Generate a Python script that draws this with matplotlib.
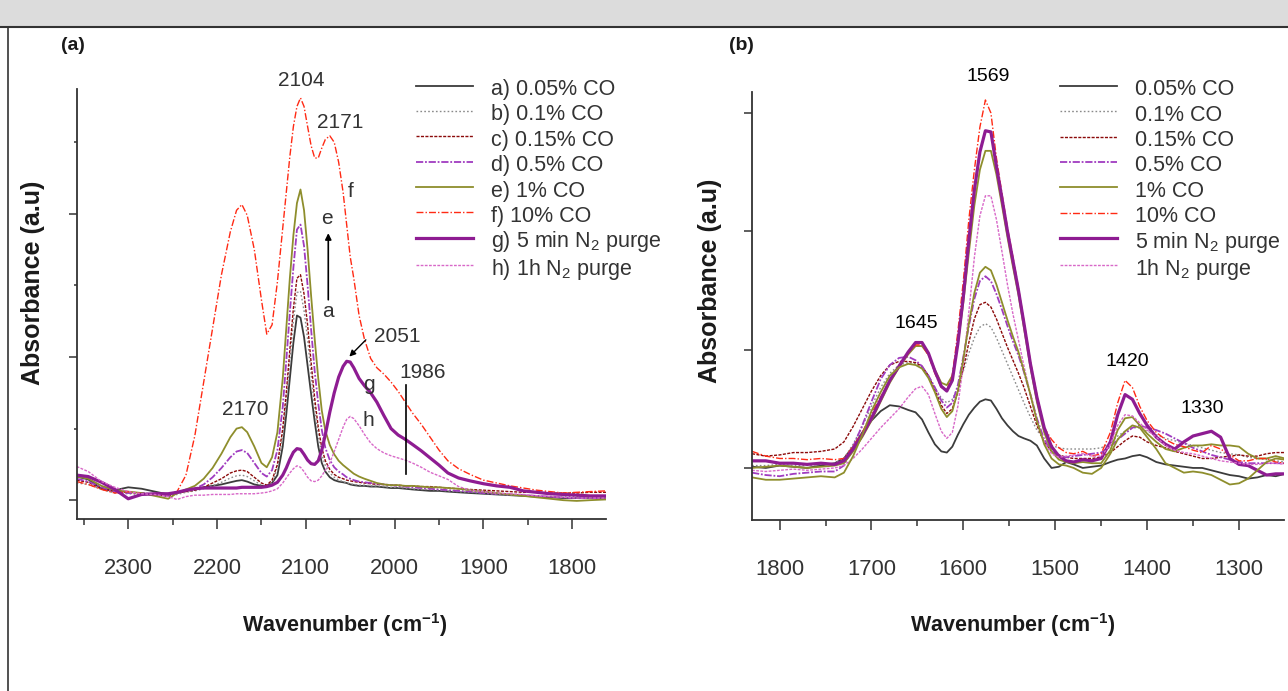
import matplotlib
matplotlib.use("Agg")
import matplotlib.pyplot as plt
from matplotlib.lines import Line2D
from matplotlib.patches import Rectangle

plt.rcParams['font.family'] = ['Liberation Sans', 'DejaVu Sans']
plt.rcParams['mathtext.fontset'] = 'custom'
plt.rcParams['mathtext.rm'] = 'Liberation Sans'
plt.rcParams['mathtext.it'] = 'Liberation Sans:italic'
plt.rcParams['mathtext.bf'] = 'Liberation Sans:bold'

# ---------------- Panel (a) data ----------------
wn_a = [2358, 2345, 2330, 2315, 2300, 2285, 2270, 2255, 2245, 2235, 2225, 2215, 2205, 2195,
        2185, 2178, 2172, 2166, 2158, 2150, 2144, 2138, 2132, 2126, 2122, 2118, 2114, 2110,
        2106, 2102, 2098, 2094, 2090, 2086, 2082, 2078, 2073, 2068, 2063, 2058, 2054, 2050,
        2046, 2040, 2034, 2027, 2020, 2012, 2004, 1996, 1988, 1980, 1970, 1960, 1950, 1940,
        1928, 1915, 1900, 1885, 1870, 1855, 1840, 1825, 1810, 1795, 1780, 1762]

a_005 = [0.033, 0.029, 0.016, 0.014, 0.018, 0.016, 0.012, 0.008, 0.010, 0.014, 0.016, 0.018, 0.020, 0.022,
         0.025, 0.027, 0.028, 0.026, 0.022, 0.020, 0.020, 0.024, 0.035, 0.075, 0.120, 0.170, 0.220, 0.258,
         0.255, 0.228, 0.188, 0.148, 0.110, 0.075, 0.052, 0.040, 0.032, 0.028, 0.026, 0.025, 0.024, 0.022,
         0.021, 0.020, 0.020, 0.019, 0.019, 0.018, 0.017, 0.017, 0.016, 0.015, 0.014, 0.013, 0.013, 0.012,
         0.011, 0.010, 0.009, 0.008, 0.007, 0.006, 0.005, 0.004, 0.003, 0.003, 0.003, 0.003]
a_01 = [0.024, 0.022, 0.015, 0.010, 0.009, 0.008, 0.007, 0.005, 0.008, 0.011, 0.013, 0.016, 0.020, 0.025,
        0.031, 0.034, 0.035, 0.033, 0.027, 0.021, 0.019, 0.024, 0.045, 0.090, 0.140, 0.195, 0.250, 0.290,
        0.292, 0.265, 0.225, 0.175, 0.128, 0.090, 0.064, 0.048, 0.038, 0.032, 0.028, 0.026, 0.024, 0.023,
        0.022, 0.021, 0.021, 0.020, 0.020, 0.019, 0.018, 0.018, 0.017, 0.016, 0.015, 0.015, 0.014, 0.013,
        0.012, 0.011, 0.010, 0.008, 0.007, 0.006, 0.005, 0.005, 0.005, 0.005, 0.005, 0.005]
a_015 = [0.028, 0.025, 0.016, 0.012, 0.011, 0.010, 0.008, 0.006, 0.010, 0.012, 0.014, 0.018, 0.024, 0.030,
         0.038, 0.041, 0.042, 0.040, 0.032, 0.024, 0.021, 0.028, 0.050, 0.100, 0.150, 0.210, 0.268, 0.310,
         0.315, 0.288, 0.245, 0.192, 0.142, 0.102, 0.073, 0.055, 0.043, 0.036, 0.032, 0.030, 0.028, 0.027,
         0.026, 0.025, 0.024, 0.023, 0.022, 0.022, 0.021, 0.021, 0.020, 0.020, 0.019, 0.019, 0.018, 0.017,
         0.016, 0.015, 0.014, 0.013, 0.012, 0.011, 0.011, 0.010, 0.010, 0.010, 0.011, 0.011]
a_05 = [0.030, 0.026, 0.018, 0.012, 0.010, 0.010, 0.008, 0.006, 0.010, 0.013, 0.016, 0.022, 0.032, 0.045,
        0.060, 0.068, 0.070, 0.066, 0.052, 0.038, 0.033, 0.042, 0.070, 0.130, 0.195, 0.262, 0.325, 0.378,
        0.385, 0.355, 0.300, 0.238, 0.180, 0.135, 0.098, 0.073, 0.056, 0.046, 0.040, 0.036, 0.032, 0.030,
        0.028, 0.026, 0.025, 0.024, 0.023, 0.022, 0.021, 0.020, 0.019, 0.018, 0.017, 0.016, 0.015, 0.014,
        0.013, 0.012, 0.010, 0.009, 0.008, 0.007, 0.006, 0.005, 0.004, 0.003, 0.003, 0.003]
a_1 = [0.033, 0.030, 0.020, 0.014, 0.012, 0.010, 0.006, 0.002, 0.010, 0.015, 0.020, 0.030, 0.045, 0.065,
       0.088, 0.100, 0.102, 0.095, 0.075, 0.052, 0.046, 0.060, 0.095, 0.170, 0.240, 0.310, 0.370, 0.415,
       0.434, 0.405, 0.350, 0.285, 0.225, 0.170, 0.125, 0.097, 0.077, 0.064, 0.055, 0.049, 0.045, 0.041,
       0.037, 0.033, 0.030, 0.027, 0.024, 0.022, 0.021, 0.021, 0.020, 0.020, 0.019, 0.018, 0.018, 0.017,
       0.016, 0.014, 0.012, 0.010, 0.008, 0.006, 0.004, 0.002, 0.000, -0.001, 0.000, 0.001]
a_10 = [0.026, 0.022, 0.015, 0.010, 0.012, 0.009, 0.008, 0.008, 0.012, 0.035, 0.090, 0.165, 0.240, 0.315,
        0.375, 0.405, 0.413, 0.398, 0.350, 0.280, 0.232, 0.245, 0.305, 0.380, 0.430, 0.480, 0.522, 0.550,
        0.562, 0.550, 0.522, 0.495, 0.478, 0.478, 0.492, 0.504, 0.509, 0.500, 0.472, 0.430, 0.385, 0.340,
        0.310, 0.258, 0.225, 0.198, 0.185, 0.176, 0.165, 0.152, 0.137, 0.122, 0.106, 0.088, 0.070, 0.055,
        0.044, 0.036, 0.028, 0.024, 0.020, 0.017, 0.014, 0.012, 0.010, 0.011, 0.012, 0.013]
a_n2_5min = [0.035, 0.033, 0.025, 0.015, 0.002, 0.008, 0.009, 0.009, 0.011, 0.014, 0.016, 0.017, 0.017, 0.017,
             0.017, 0.017, 0.018, 0.018, 0.018, 0.018, 0.019, 0.021, 0.025, 0.035, 0.045, 0.057, 0.067, 0.072,
             0.071, 0.064, 0.056, 0.051, 0.050, 0.055, 0.070, 0.092, 0.123, 0.150, 0.172, 0.187, 0.194, 0.193,
             0.185, 0.170, 0.160, 0.150, 0.137, 0.118, 0.100, 0.091, 0.085, 0.078, 0.069, 0.059, 0.049, 0.038,
             0.031, 0.027, 0.023, 0.020, 0.018, 0.013, 0.011, 0.009, 0.008, 0.007, 0.006, 0.006]
a_n2_1h = [0.047, 0.040, 0.026, 0.018, 0.012, 0.009, 0.008, 0.005, 0.001, 0.005, 0.007, 0.007, 0.008, 0.008,
           0.008, 0.009, 0.009, 0.009, 0.009, 0.010, 0.011, 0.013, 0.016, 0.024, 0.031, 0.038, 0.044, 0.048,
           0.046, 0.040, 0.032, 0.027, 0.026, 0.028, 0.034, 0.042, 0.052, 0.068, 0.085, 0.102, 0.113, 0.117,
           0.114, 0.104, 0.092, 0.080, 0.072, 0.066, 0.062, 0.059, 0.056, 0.052, 0.046, 0.039, 0.034, 0.029,
           0.019, 0.014, 0.012, 0.010, 0.009, 0.008, 0.006, 0.005, 0.004, 0.003, 0.003, 0.003]

# ---------------- Panel (b) data ----------------
wn_b = [1830, 1815, 1800, 1785, 1770, 1755, 1740, 1730, 1720, 1710, 1700, 1690, 1680, 1670, 1660,
        1652, 1645, 1638, 1631, 1624, 1618, 1612, 1606, 1600, 1594, 1588, 1582, 1576, 1570, 1564,
        1558, 1552, 1546, 1540, 1534, 1527, 1520, 1512, 1504, 1496, 1488, 1480, 1470, 1460, 1450,
        1440, 1432, 1424, 1416, 1408, 1400, 1390, 1380, 1370, 1360, 1350, 1340, 1330, 1320, 1310,
        1300, 1290, 1280, 1270, 1260, 1250]

b_005 = [0.001, 0.000, 0.002, 0.001, 0.000, 0.002, 0.004, 0.008, 0.018, 0.030, 0.040, 0.048, 0.053, 0.052, 0.049,
         0.047, 0.041, 0.030, 0.020, 0.014, 0.013, 0.018, 0.028, 0.037, 0.045, 0.051, 0.056, 0.058, 0.057, 0.050,
         0.042, 0.036, 0.031, 0.027, 0.025, 0.023, 0.019, 0.008, 0.000, 0.001, 0.005, 0.003, 0.000, 0.001, 0.002,
         0.005, 0.007, 0.008, 0.010, 0.011, 0.009, 0.005, 0.003, 0.002, 0.001, 0.000, 0.000, -0.002, -0.004, -0.006,
         -0.007, -0.009, -0.008, -0.006, -0.007, -0.005]
b_01 = [0.002, 0.002, 0.003, 0.002, 0.002, 0.003, 0.004, 0.008, 0.020, 0.035, 0.052, 0.068, 0.080, 0.087, 0.089,
        0.088, 0.085, 0.078, 0.068, 0.059, 0.055, 0.058, 0.068, 0.082, 0.097, 0.110, 0.119, 0.122, 0.119, 0.110,
        0.099, 0.088, 0.077, 0.066, 0.055, 0.043, 0.032, 0.024, 0.019, 0.017, 0.016, 0.016, 0.016, 0.016, 0.017,
        0.021, 0.027, 0.031, 0.034, 0.034, 0.031, 0.028, 0.025, 0.023, 0.021, 0.019, 0.017, 0.015, 0.013, 0.012,
        0.011, 0.009, 0.008, 0.007, 0.006, 0.005]
b_015 = [0.012, 0.010, 0.011, 0.013, 0.013, 0.014, 0.016, 0.022, 0.035, 0.050, 0.065, 0.078, 0.087, 0.090, 0.090,
         0.089, 0.086, 0.078, 0.066, 0.053, 0.046, 0.050, 0.064, 0.084, 0.106, 0.126, 0.138, 0.140, 0.136, 0.126,
         0.114, 0.102, 0.091, 0.080, 0.068, 0.052, 0.036, 0.022, 0.014, 0.011, 0.009, 0.008, 0.008, 0.008, 0.009,
         0.013, 0.018, 0.023, 0.027, 0.026, 0.022, 0.019, 0.017, 0.014, 0.012, 0.010, 0.008, 0.008, 0.009, 0.010,
         0.011, 0.010, 0.010, 0.012, 0.013, 0.013]
b_05 = [-0.004, -0.006, -0.007, -0.005, -0.004, -0.003, -0.003, 0.002, 0.018, 0.036, 0.056, 0.075, 0.087, 0.093, 0.094,
        0.091, 0.086, 0.078, 0.068, 0.057, 0.051, 0.055, 0.070, 0.094, 0.120, 0.143, 0.158, 0.162, 0.158, 0.147,
        0.134, 0.120, 0.107, 0.095, 0.081, 0.062, 0.042, 0.024, 0.014, 0.010, 0.009, 0.010, 0.011, 0.012, 0.013,
        0.018, 0.024, 0.029, 0.034, 0.036, 0.034, 0.032, 0.029, 0.025, 0.021, 0.017, 0.014, 0.011, 0.009, 0.007,
        0.005, 0.004, 0.004, 0.004, 0.004, 0.004]
b_1 = [0.000, 0.001, 0.002, 0.001, 0.000, 0.001, 0.002, 0.004, 0.014, 0.026, 0.040, 0.056, 0.072, 0.085, 0.096,
       0.103, 0.103, 0.096, 0.083, 0.072, 0.070, 0.078, 0.105, 0.140, 0.182, 0.222, 0.252, 0.268, 0.268, 0.248,
       0.222, 0.195, 0.170, 0.146, 0.118, 0.085, 0.056, 0.030, 0.014, 0.007, 0.005, 0.004, 0.005, 0.004, 0.004,
       0.015, 0.032, 0.042, 0.043, 0.036, 0.029, 0.022, 0.016, 0.014, 0.017, 0.019, 0.019, 0.020, 0.019, 0.019,
       0.018, 0.012, 0.008, 0.008, 0.010, 0.008]
b_1_repeat = [-0.008, -0.010, -0.010, -0.009, -0.008, -0.007, -0.008, -0.004, 0.010, 0.028, 0.048, 0.064, 0.078, 0.085, 0.088,
              0.087, 0.084, 0.076, 0.064, 0.050, 0.043, 0.048, 0.065, 0.092, 0.122, 0.148, 0.165, 0.170, 0.167, 0.155,
              0.140, 0.125, 0.111, 0.098, 0.082, 0.062, 0.040, 0.020, 0.008, 0.003, 0.002, 0.000, -0.004, -0.005, 0.000,
              0.012, 0.024, 0.031, 0.036, 0.034, 0.026, 0.016, 0.004, 0.000, -0.004, -0.003, -0.004, -0.006, -0.010, -0.014,
              -0.013, -0.009, -0.002, 0.005, 0.008, 0.007]
b_10 = [0.014, 0.010, 0.008, 0.008, 0.007, 0.008, 0.007, 0.008, 0.018, 0.030, 0.046, 0.060, 0.074, 0.086, 0.097,
        0.104, 0.104, 0.095, 0.080, 0.068, 0.066, 0.078, 0.115, 0.158, 0.210, 0.252, 0.288, 0.311, 0.300, 0.262,
        0.232, 0.203, 0.178, 0.152, 0.124, 0.090, 0.062, 0.034, 0.024, 0.017, 0.013, 0.012, 0.014, 0.010, 0.012,
        0.030, 0.055, 0.074, 0.068, 0.052, 0.040, 0.030, 0.024, 0.020, 0.018, 0.015, 0.013, 0.019, 0.016, 0.011,
        0.006, 0.006, 0.008, 0.008, 0.005, 0.004]
b_n2_5min = [0.006, 0.006, 0.004, 0.004, 0.003, 0.004, 0.003, 0.006, 0.016, 0.028, 0.042, 0.058, 0.074, 0.086, 0.098,
             0.106, 0.106, 0.097, 0.082, 0.069, 0.065, 0.074, 0.105, 0.145, 0.193, 0.235, 0.267, 0.285, 0.284, 0.255,
             0.228, 0.200, 0.175, 0.150, 0.122, 0.088, 0.060, 0.034, 0.018, 0.010, 0.006, 0.005, 0.007, 0.006, 0.008,
             0.022, 0.045, 0.062, 0.058, 0.046, 0.036, 0.026, 0.020, 0.016, 0.022, 0.027, 0.029, 0.031, 0.026, 0.008,
             0.003, 0.002, -0.002, -0.006, -0.005, -0.005]
b_n2_1h = [-0.002, -0.003, -0.002, -0.001, -0.002, -0.001, 0.000, 0.002, 0.008, 0.016, 0.025, 0.034, 0.042, 0.050, 0.060,
           0.067, 0.069, 0.062, 0.046, 0.031, 0.025, 0.030, 0.052, 0.088, 0.132, 0.178, 0.213, 0.230, 0.230, 0.210,
           0.183, 0.155, 0.130, 0.108, 0.086, 0.062, 0.040, 0.022, 0.012, 0.009, 0.010, 0.011, 0.012, 0.010, 0.010,
           0.020, 0.036, 0.045, 0.044, 0.038, 0.032, 0.026, 0.019, 0.015, 0.013, 0.012, 0.010, 0.008, 0.006, 0.005,
           0.004, 0.003, 0.003, 0.004, 0.004, 0.003]

labels_a = ['a) 0.05% CO', 'b) 0.1% CO', 'c) 0.15% CO', 'd) 0.5% CO', 'e) 1% CO', 'f) 10% CO',
            'g) 5 min N$_\\mathregular{2}$ purge', 'h) 1h N$_\\mathregular{2}$ purge']
labels_b = ['0.05% CO', '0.1% CO', '0.15% CO', '0.5% CO', '1% CO', '10% CO',
            '5 min N$_\\mathregular{2}$ purge', '1h N$_\\mathregular{2}$ purge']

styles = [
    dict(color='#3c3c3c', lw=1.3, ls='-'),
    dict(color='#8a8a8a', lw=1.0, ls=(0, (1.2, 1.6))),
    dict(color='#8b0a0a', lw=1.0, ls=(0, (2.2, 1.0))),
    dict(color='#a03cc0', lw=1.3, ls=(0, (4, 1, 1, 1))),
    dict(color='#8e8e2c', lw=1.3, ls='-'),
    dict(color='#ff2a14', lw=1.0, ls=(0, (5, 1.5, 1, 1.5))),
    dict(color='#8e1c92', lw=2.3, ls='-'),
    dict(color='#d868c8', lw=1.0, ls=(0, (2, 1))),
]

series_a = [a_005, a_01, a_015, a_05, a_1, a_10, a_n2_5min, a_n2_1h]
series_b = [b_005, b_01, b_015, b_05, b_1, b_10, b_n2_5min, b_n2_1h]

W, H = 1288, 691
fig = plt.figure(figsize=(W / 100, H / 100), dpi=100)

# frame decorations of the screenshot
fig.add_artist(Rectangle((0, 1 - 26 / H), 1, 26 / H, transform=fig.transFigure,
                         facecolor='#dcdcdc', edgecolor='none'))
fig.add_artist(Line2D([0, 1], [1 - 27 / H, 1 - 27 / H], transform=fig.transFigure,
                      color='#333333', lw=1.5))
fig.add_artist(Line2D([8 / W, 8 / W], [0, 1 - 27 / H], transform=fig.transFigure,
                      color='#333333', lw=1.2))

axA = fig.add_axes([76.9 / W, (H - 518.8) / H, 528.7 / W, 429.5 / H])
axB = fig.add_axes([752.4 / W, (H - 520) / H, 531.6 / W, 428.3 / H])

txt_col = '#333333'
for ax in (axA, axB):
    for s in ('top', 'right'):
        ax.spines[s].set_visible(False)
    for s in ('left', 'bottom'):
        ax.spines[s].set_color('#333333')
        ax.spines[s].set_linewidth(1.3)
    ax.patch.set_alpha(0)

handles_a = []
for ys, st, lab in zip(series_a, styles, labels_a):
    h, = axA.plot(wn_a, ys, label=lab, **st)
    handles_a.append(h)
handles_b = []
for ys, st, lab in zip(series_b, styles, labels_b):
    h, = axB.plot(wn_b, ys, label=lab, **st)
    handles_b.append(h)
axB.plot(wn_b, b_1_repeat, **styles[4])

axA.set_xlim(2357.8, 1762.4)
axA.set_ylim(-0.026, 0.574)
axB.set_xlim(1829.6, 1251)
axB.set_ylim(-0.044, 0.318)

axA.set_xticks([2300, 2200, 2100, 2000, 1900, 1800])
axA.set_xticks([2350, 2250, 2150, 2050, 1950, 1850], minor=True)
axA.set_yticks([0, 0.2, 0.4])
axA.set_yticks([0.1, 0.3, 0.5], minor=True)
axA.set_yticklabels([])
axB.set_xticks([1800, 1700, 1600, 1500, 1400, 1300])
axB.set_xticks([1750, 1650, 1550, 1450, 1350], minor=True)
axB.set_yticks([0, 0.1, 0.2, 0.3])
axB.set_yticklabels([])

for ax in (axA, axB):
    ax.tick_params(axis='x', which='major', direction='out', length=7, width=1.1,
                   color='#333333', labelsize=15.8, labelcolor=txt_col, pad=21)
    ax.tick_params(axis='x', which='minor', direction='out', length=4, width=1.1, color='#333333')
axA.tick_params(axis='y', which='major', direction='out', length=6, width=1.1, color='#333333')
axA.tick_params(axis='y', which='minor', direction='out', length=2.5, width=1.1, color='#333333')
axB.tick_params(axis='y', which='major', direction='out', length=6, width=1.1, color='#333333')

xl = 'Wavenumber (cm$^{\\mathbf{-1}}$)'
axA.set_xlabel(xl, fontsize=15.5, fontweight='bold', color='#1a1a1a')
axB.set_xlabel(xl, fontsize=15.5, fontweight='bold', color='#1a1a1a')
axA.xaxis.set_label_coords(0.507, -0.215)
axB.xaxis.set_label_coords(0.490, -0.213)
axA.set_ylabel('Absorbance (a.u)', fontsize=18, fontweight='bold', color='#1a1a1a')
axB.set_ylabel('Absorbance (a.u)', fontsize=18, fontweight='bold', color='#1a1a1a')
axA.yaxis.set_label_coords(-0.061, 0.549)
axB.yaxis.set_label_coords(-0.057, 0.558)

axA.text(-0.007, 1.101, '(a)', transform=axA.transAxes, fontsize=14, fontweight='bold',
         ha='center', va='center', color='#1a1a1a')
axB.text(-0.021, 1.107, '(b)', transform=axB.transAxes, fontsize=14, fontweight='bold',
         ha='center', va='center', color='#1a1a1a')

leg_kw = dict(loc='upper left', frameon=False, fontsize=15.5, borderpad=0, borderaxespad=0,
              handlelength=2.65, handleheight=1.32, handletextpad=0.85, labelspacing=0.06,
              labelcolor=txt_col)
axA.legend(handles=handles_a, bbox_to_anchor=(0.641, 1.031), **leg_kw)
axB.legend(handles=handles_b, bbox_to_anchor=(0.5786, 1.036), **leg_kw)

# annotations panel a
ann = dict(fontsize=15, color=txt_col, ha='center', va='center', clip_on=False)
axA.text(2105.4, 0.586, '2104', **ann)
axA.text(2061.5, 0.527, '2171', **ann)
axA.text(2049, 0.431, 'f', **ann)
axA.text(2076, 0.394, 'e', **ann)
axA.text(2075, 0.263, 'a', **ann)
axA.text(2168.5, 0.126, '2170', **ann)
axA.text(1997.3, 0.228, '2051', **ann)
axA.text(2028.6, 0.161, 'g', **ann)
axA.text(2029.5, 0.112, 'h', **ann)
axA.text(1968, 0.179, '1986', **ann)
axA.annotate('', xy=(2074.7, 0.373), xytext=(2074.7, 0.280),
             arrowprops=dict(arrowstyle='-|>', color='black', lw=1.2, mutation_scale=9,
                             shrinkA=0, shrinkB=0))
axA.annotate('', xy=(2051, 0.2006), xytext=(2032.4, 0.224),
             arrowprops=dict(arrowstyle='-|>', color='black', lw=1.0, mutation_scale=9,
                             shrinkA=0, shrinkB=0))
axA.plot([1986.7, 1986.7], [0.036, 0.161], color='black', lw=1.2)

# annotations panel b
annb = dict(fontsize=14, color='black', ha='center', va='center', clip_on=False)
axB.text(1573.5, 0.331, '1569', **annb)
axB.text(1650.7, 0.122, '1645', **annb)
axB.text(1421.3, 0.090, '1420', **annb)
axB.text(1339.8, 0.050, '1330', **annb)

fig.savefig('out.png', dpi=100)
